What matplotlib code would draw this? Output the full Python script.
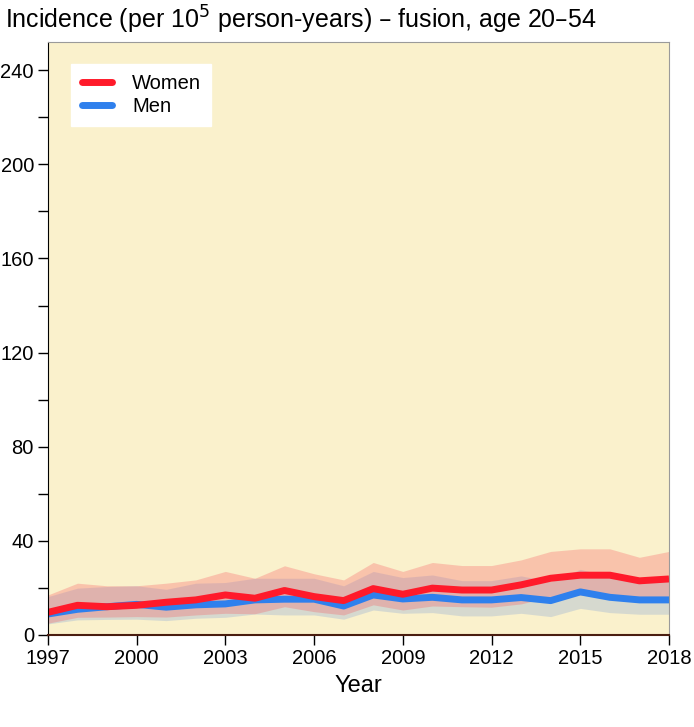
import matplotlib
matplotlib.use("Agg")
import matplotlib.pyplot as plt

# === Data ===
years = list(range(1997, 2019))

women = [9.6, 12.6, 12.0, 12.6, 13.9, 14.9, 17.0, 15.6, 18.9, 16.3, 14.6,
         19.7, 17.3, 19.9, 19.1, 19.1, 21.3, 24.1, 25.4, 25.4, 23.0, 23.8]
women_lo = [5.0, 7.5, 7.6, 7.8, 7.6, 8.5, 9.2, 9.0, 12.0, 9.9, 8.5,
            12.8, 10.6, 12.3, 12.0, 11.8, 13.2, 16.3, 17.0, 17.0, 14.9, 16.3]
women_hi = [17.0, 22.0, 20.9, 20.9, 22.0, 23.4, 27.0, 24.1, 29.4, 26.0, 23.4,
            30.8, 27.0, 30.8, 29.5, 29.5, 31.9, 35.5, 36.6, 36.6, 33.0, 35.5]

men = [8.9, 10.9, 12.0, 13.0, 11.8, 12.8, 13.2, 14.9, 15.2, 15.2, 12.3,
       17.0, 15.3, 16.0, 14.9, 14.9, 15.9, 14.6, 18.3, 16.0, 14.9, 14.9]
men_lo = [4.7, 6.4, 6.6, 6.7, 6.1, 7.1, 7.5, 8.9, 8.5, 8.5, 6.7,
          10.6, 9.2, 9.5, 8.1, 8.1, 9.2, 7.8, 11.3, 9.5, 8.8, 8.8]
men_hi = [16.3, 19.9, 20.6, 20.9, 19.4, 22.0, 22.3, 24.1, 24.1, 24.1, 20.9,
          27.0, 24.4, 25.5, 23.1, 23.1, 25.1, 22.7, 27.9, 24.8, 23.4, 23.4]

year_ticks = [1997, 2000, 2003, 2006, 2009, 2012, 2015, 2018]
y_ticks = [0, 40, 80, 120, 160, 200, 240]

plt.rcParams["font.family"] = ["Liberation Sans", "DejaVu Sans"]

fig = plt.figure(figsize=(6.94, 7.27), dpi=100)
ax = fig.add_axes([0.069, 0.1266, 0.895, 0.8157])
ax.set_facecolor("#FAF1CC")

# Confidence bands (men underneath, women on top -> mauve overlap)
ax.fill_between(years, men_lo, men_hi, color="#85A4D9", alpha=0.3, lw=0)
ax.fill_between(years, women_lo, women_hi, color="#F75B61", alpha=0.3, lw=0)

# Point estimates
ax.plot(years, men, color="#2F80ED", lw=5, solid_capstyle="butt", label="Men")
ax.plot(years, women, color="#FF1A2A", lw=5, solid_capstyle="butt", label="Women")

ax.set_xlim(1997, 2018)
ax.set_ylim(0, 252)
ax.set_xticks(year_ticks)
ax.set_yticks(y_ticks)
ax.set_yticks(range(20, 252, 40), minor=True)
ax.tick_params(axis="both", labelsize=14.5, direction="out", length=7,
               width=1, color="black", pad=3)
ax.tick_params(axis="y", which="minor", length=7, width=1)
ax.set_xlabel("Year", fontsize=17, labelpad=5)

for side in ("top", "right"):
    ax.spines[side].set_color("#9A9A9A")
ax.spines["left"].set_color("black")
ax.spines["bottom"].set_color("#4A1E10")
ax.spines["bottom"].set_linewidth(1.5)

handles, labels = ax.get_legend_handles_labels()
leg = ax.legend(handles[::-1], labels[::-1], loc="upper left",
                bbox_to_anchor=(0.038, 0.963), fontsize=14.5, frameon=True,
                fancybox=False, edgecolor="white", framealpha=1,
                handlelength=1.5, handletextpad=1.0, borderpad=0.5,
                labelspacing=0.22, borderaxespad=0)
for line in leg.get_lines():
    line.set_linewidth(5)
    line.set_solid_capstyle("round")

fig.text(0.007, 0.973, "Incidence (per 10$^5$ person-years) \u2013 fusion, age 20\u201354",
         fontsize=18, ha="left", va="center")

fig.savefig("out.png", dpi=100)
